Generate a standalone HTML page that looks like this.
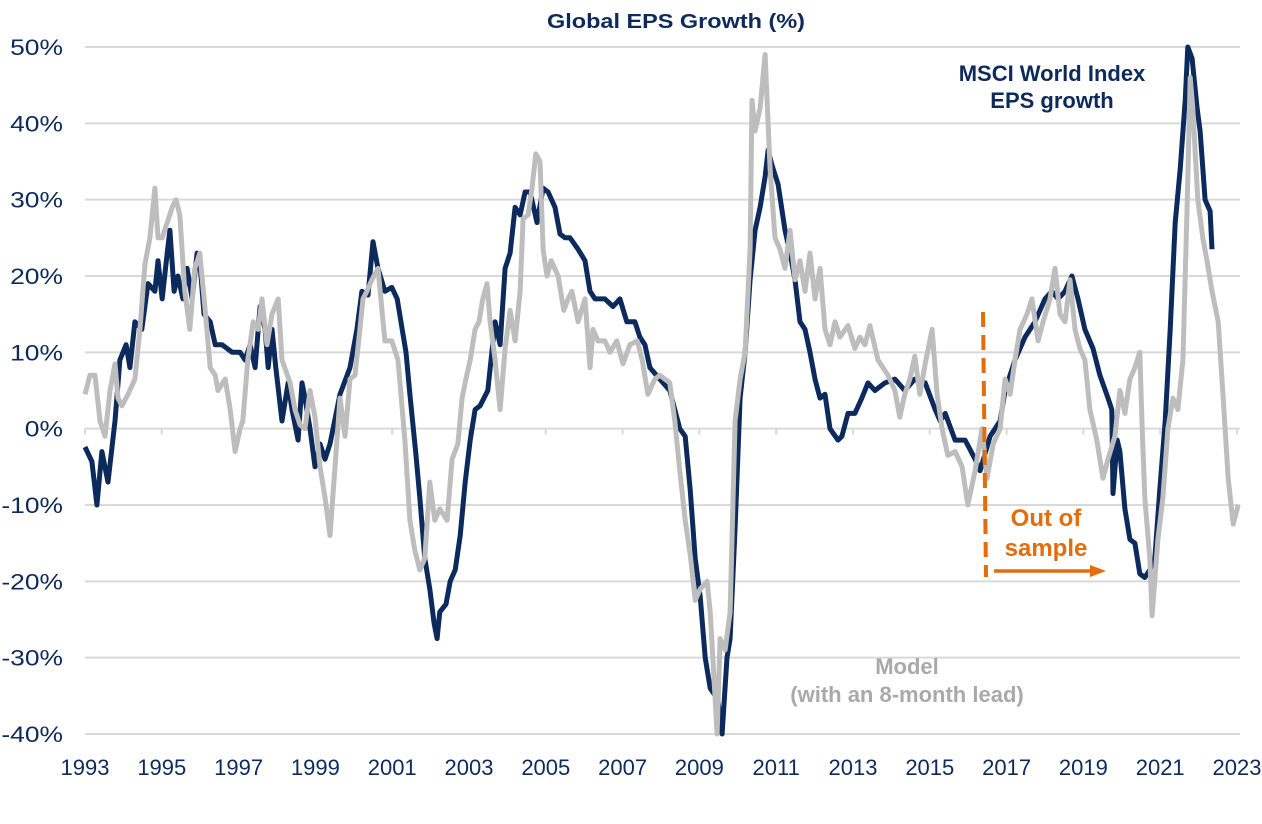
<!DOCTYPE html>
<html><head><meta charset="utf-8"><style>
html,body{margin:0;padding:0;background:#fff;}
svg{display:block;font-family:"Liberation Sans",Arial,sans-serif;}
</style></head><body>
<svg id="chart" width="1262" height="824" viewBox="0 0 1262 824" xmlns="http://www.w3.org/2000/svg">
<text x="676" y="28" text-anchor="middle" font-size="20" font-weight="bold" fill="#0d2a5c" textLength="258" lengthAdjust="spacingAndGlyphs">Global EPS Growth (%)</text>
<g id="grid"></g>
<g id="yaxis"></g>
<g id="xaxis"></g>
<g id="series"></g>
<line x1="983" y1="312" x2="986" y2="577" stroke="#e46c0a" stroke-width="4" stroke-dasharray="15,8"/>
<line x1="994" y1="571" x2="1092" y2="571" stroke="#e46c0a" stroke-width="3.5"/>
<polygon points="1090,565 1106,571 1090,577" fill="#e46c0a"/>
<text text-anchor="middle" font-size="24" font-weight="bold" fill="#e46c0a"><tspan x="1046" y="526">Out of</tspan><tspan x="1046" y="556">sample</tspan></text>
<text text-anchor="middle" font-size="22" font-weight="bold" fill="#0d2a5c"><tspan x="1052" y="81">MSCI World Index</tspan><tspan x="1052" y="108">EPS growth</tspan></text>
<text text-anchor="middle" font-size="22" font-weight="bold" fill="#a9a9a9"><tspan x="907" y="674">Model</tspan><tspan x="907" y="702">(with an 8-month lead)</tspan></text>
</svg>
<script>
const yTicks=[50,40,30,20,10,0,-10,-20,-30,-40];
const xTickYears=[1993,1995,1997,1999,2001,2003,2005,2007,2009,2011,2013,2015,2017,2019,2021,2023];
const epsYearsSince1993=[0,.18,.31,.44,.60,.78,.91,1.07,1.17,1.30,1.48,1.64,1.82,1.90,2.01,2.14,2.21,2.32,2.42,2.55,2.66,2.79,2.92,2.99,3.10,3.26,3.39,3.57,3.83,4.04,4.17,4.30,4.43,4.56,4.69,4.77,4.87,4.97,5.13,5.29,5.39,5.55,5.65,5.73,5.86,5.99,6.12,6.25,6.38,6.64,6.90,7.08,7.21,7.37,7.50,7.63,7.81,7.99,8.13,8.26,8.36,8.46,8.62,8.72,8.85,8.98,9.09,9.17,9.24,9.40,9.51,9.64,9.77,9.90,10.03,10.16,10.29,10.49,10.68,10.81,10.94,11.07,11.20,11.33,11.46,11.59,11.77,11.93,12.06,12.24,12.37,12.50,12.63,12.84,13.02,13.15,13.28,13.54,13.75,13.93,14.11,14.32,14.45,14.58,14.71,14.97,15.23,15.49,15.63,15.76,15.89,16.02,16.15,16.28,16.48,16.59,16.72,16.80,16.93,17.06,17.19,17.32,17.45,17.58,17.71,17.79,17.89,18.05,18.23,18.36,18.49,18.62,18.75,18.88,19.01,19.14,19.27,19.40,19.61,19.71,19.87,20.05,20.23,20.39,20.57,20.83,21.09,21.35,21.61,21.88,22.14,22.27,22.40,22.66,22.92,23.18,23.31,23.57,23.83,23.96,24.22,24.48,24.74,25.00,25.18,25.34,25.52,25.70,25.86,26.04,26.25,26.43,26.64,26.74,26.77,26.88,26.95,27.08,27.21,27.34,27.47,27.60,27.73,27.86,27.99,28.13,28.26,28.39,28.52,28.65,28.72,28.83,28.96,29.04,29.17,29.30,29.35];
const epsValues=[-2.4,-4.3,-10,-3,-7,1,9,11,8,14,13,19,18,22,17,23,26,18,20,17,21,17,23,22,15,14,11,11,10,10,9,11,8,16,13,8,13,8,1,6,2.5,-1.5,6,4,0,-5,-2,-4,-2,4.5,8,13,18,17.5,24.5,21,18,18.5,17,13,10,4.5,-3.5,-9,-17,-21,-25.5,-27.5,-24,-23,-20,-18.5,-14,-7,-1.5,2.5,3,5,14,11,21,23,29,28,31,31,27,31.5,31,29,25.5,25,25,23.5,22,18,17,17,16,17,14,14,12,11,8,6.5,5,0,-1,-8,-17,-22,-30,-34,-35.5,-40,-30,-27.5,-13,4,10,19.5,26,29,33,36.5,34.5,32,26,23,19.5,14,13,10,6.5,4,4.5,0,-1.5,-1,2,2,4,6,5,6,6.5,5,6.5,6,2.5,1,2,-1.5,-1.5,-4,-5.5,-1,1,5,9,12,14,17,18,17,18,20,17,13,10.5,7,4,2.5,-8.5,-1.5,-3,-10.5,-14.5,-15,-19,-19.5,-18.5,-17,-8,1,13,27,34,43,50,48.5,42,39,30,28.5,23.5];
const modelYearsSince1993=[0,.13,.26,.39,.52,.65,.78,.86,.96,1.12,1.30,1.43,1.56,1.69,1.82,1.90,2.01,2.14,2.27,2.37,2.47,2.60,2.73,2.86,2.99,3.13,3.26,3.39,3.46,3.65,3.78,3.91,4.04,4.11,4.24,4.38,4.51,4.61,4.74,4.87,5.03,5.13,5.34,5.47,5.60,5.73,5.86,5.99,6.12,6.25,6.38,6.51,6.64,6.77,6.90,7.03,7.16,7.24,7.34,7.47,7.63,7.81,7.99,8.15,8.33,8.46,8.59,8.72,8.85,8.98,9.11,9.24,9.43,9.56,9.71,9.82,9.92,10.03,10.16,10.26,10.36,10.47,10.55,10.68,10.81,10.94,11.07,11.20,11.33,11.41,11.54,11.64,11.74,11.85,11.93,12.03,12.14,12.32,12.47,12.58,12.68,12.84,13.02,13.15,13.23,13.36,13.54,13.67,13.85,14.01,14.19,14.38,14.51,14.66,14.84,14.97,15.23,15.36,15.49,15.63,15.76,15.89,16.02,16.20,16.28,16.35,16.46,16.54,16.67,16.80,16.93,17.06,17.19,17.32,17.37,17.45,17.58,17.71,17.84,17.97,18.10,18.23,18.36,18.49,18.62,18.75,18.88,19.01,19.14,19.27,19.40,19.53,19.66,19.87,20.05,20.18,20.31,20.44,20.65,20.91,21.09,21.22,21.35,21.48,21.61,21.74,21.88,22.06,22.19,22.32,22.47,22.66,22.84,22.99,23.18,23.36,23.49,23.65,23.83,23.96,24.09,24.22,24.35,24.53,24.66,24.82,24.95,25.13,25.26,25.39,25.52,25.65,25.78,25.91,26.04,26.17,26.35,26.51,26.64,26.82,26.95,27.08,27.21,27.34,27.47,27.53,27.60,27.73,27.79,27.94,28.07,28.20,28.33,28.46,28.59,28.70,28.78,28.85,28.98,29.11,29.22,29.35,29.51,29.64,29.77,29.90,30.03];
const modelValues=[4.5,7,7,1,-1,5,8.5,4,3,4.5,6.5,13,21.5,25,31.5,25,25,27,29,30,28,18,13,21,23,15.5,8,7,5,6.5,2.5,-3,0,1,9,14,13,17,11,15,17,9,6,2.5,0.5,0,5,1.5,-5,-9,-14,-5,4,-1,6.5,7,13,17,18,19.5,21,11.5,11.5,9,-1.5,-12,-16,-18.5,-17,-7,-12,-10.5,-12,-4,-2,4,6.5,9,13,14,17,19,14,9,2.5,10.5,15.5,11.5,18,27.5,28,31.5,36,35,23.5,20,22,20,15.5,17,18,14,17,8,13,11.5,11.5,10,11.5,8.5,11,11.5,9,4.5,6.5,7,6,1,-5.5,-12,-16.5,-22.5,-21,-20,-24,-30,-40,-27.5,-29,-24,1,6.5,10,23.5,43,39,42,49,34,25,23.5,21,26,19.5,22,18,23,17,21,13,11,14,12,13.5,10.5,12,11,13.5,9,7,5,1.5,4.5,6.5,9.5,4.5,8.5,13,4.5,0,-3.5,-3,-5,-10,-5.5,0,-6.5,-2,0,6.5,4.5,9,13,15,17,11.5,14,17,21,15,14,19.5,13,10.5,9,2.5,-1.5,-6.5,-4,-1,5,2,6.5,8,10,0,-9,-17,-24.5,-14.5,-9,0,4,2.5,9,29,46,42,30,25,22,18,14,4,-6.5,-12.5,-10];

const NS='http://www.w3.org/2000/svg';
const X0=85,X1=1237,YTOP=47,YBOT=734;
function xScale(year){return X0+(year-1993)/30*(X1-X0);}
function yScale(v){return YTOP+(50-v)/90*(YBOT-YTOP);}
const grid=document.getElementById('grid'),yaxis=document.getElementById('yaxis'),xaxis=document.getElementById('xaxis'),series=document.getElementById('series');
yTicks.forEach(t=>{
  const l=document.createElementNS(NS,'line');
  l.setAttribute('x1',X0);l.setAttribute('x2',1240);l.setAttribute('y1',yScale(t));l.setAttribute('y2',yScale(t));
  l.setAttribute('stroke','#d9d9d9');l.setAttribute('stroke-width','2');
  
  
  grid.appendChild(l);
  const tx=document.createElementNS(NS,'text');
  tx.setAttribute('x',63);tx.setAttribute('y',yScale(t)+8);tx.setAttribute('text-anchor','end');
  tx.setAttribute('font-size','22');tx.setAttribute('fill','#0d2a5c');
  tx.textContent=t+'%';
  
  
  yaxis.appendChild(tx);
  const w=tx.getComputedTextLength();
  tx.setAttribute('textLength',(w*1.2).toFixed(1));
  tx.setAttribute('lengthAdjust','spacingAndGlyphs');
});
xTickYears.forEach(yr=>{
  const tk=document.createElementNS(NS,'line');
  tk.setAttribute('x1',xScale(yr));tk.setAttribute('x2',xScale(yr));tk.setAttribute('y1',yScale(0));tk.setAttribute('y2',yScale(0)+6);
  tk.setAttribute('stroke','#d9d9d9');tk.setAttribute('stroke-width','2');
  
  
  xaxis.appendChild(tk);
  const tx=document.createElementNS(NS,'text');
  tx.setAttribute('x',xScale(yr));tx.setAttribute('y',775);tx.setAttribute('text-anchor','middle');
  tx.setAttribute('font-size','22');tx.setAttribute('fill','#0d2a5c');
  tx.textContent=yr;
  
  
  xaxis.appendChild(tx);
});
function drawLine(years,vals,color,name){
  const d=years.map((y,i)=>(i?'L':'M')+xScale(1993+y).toFixed(1)+','+yScale(vals[i]).toFixed(1)).join('');
  const p=document.createElementNS(NS,'path');
  p.setAttribute('d',d);p.setAttribute('fill','none');p.setAttribute('stroke',color);
  p.setAttribute('stroke-width','5');p.setAttribute('stroke-linejoin','round');
  
  
  series.appendChild(p);
}
drawLine(epsYearsSince1993,epsValues,'#0d2a5c','msci-eps-growth-line');
drawLine(modelYearsSince1993,modelValues,'#bdbdbd','model-line');
</script>
</body></html>
